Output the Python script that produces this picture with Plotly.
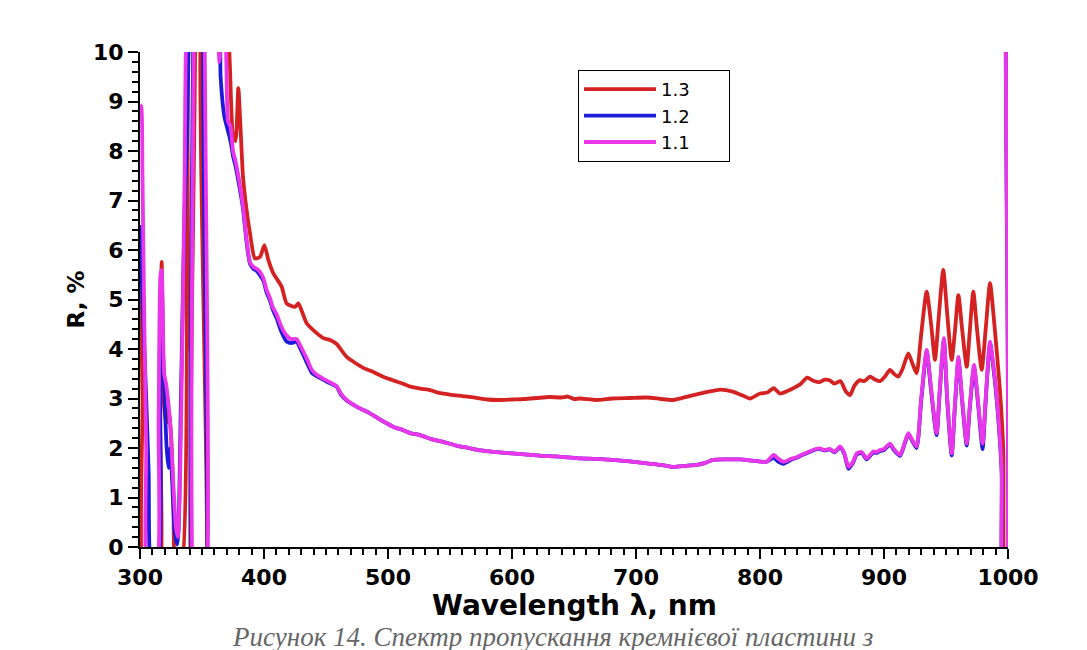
import plotly.graph_objects as go

# ---------------- data ----------------
wl_13 = [300, 302, 304, 314, 316, 317.5, 319, 321, 323, 325, 327, 329, 333, 337, 339, 341, 343, 344.5, 351, 353,
         363, 368, 372, 375, 377, 379.3, 381, 383, 385, 388.7, 392.7, 396.8, 400.3, 403.5, 407.5, 414.2, 418.3, 425,
         427.7, 434.4, 442.5, 447.8, 453.2, 458.6, 466.7, 480, 486, 496, 505, 512, 518, 526, 534, 540, 550, 560,
         570, 580, 590, 600, 610, 620, 630, 640, 645, 650, 655, 668, 681, 695, 709, 720, 730, 743, 755, 768, 778,
         786, 792, 800, 806, 811, 816, 822, 827, 833, 838, 843, 848, 852, 856, 860, 865, 869, 872.6, 876, 880.6,
         884, 888.7, 893, 896.8, 901, 904.8, 908, 911.5, 915, 919.6, 923, 926.3, 930, 934.4, 938, 941.1, 944,
         947.8, 951, 954.6, 957, 960, 963, 966.7, 969, 972, 975, 978.8, 982, 985.5, 989, 993.5, 996.2, 998, 1000]
r_13 = [6.5, 3.0, -1, -1, 3.0, 5.76, 3.0, 2.5, 2.8, 2.3, 1.0, -0.5, -0.5, 12, 4.0, 12, 12, -2, -2, 12,
        12, 11, 10, 8.3, 8.2, 9.27, 8.5, 7.5, 7.0, 6.34, 5.83, 5.86, 6.10, 5.80, 5.53, 5.26, 4.92, 4.85,
        4.92, 4.52, 4.32, 4.22, 4.18, 4.10, 3.84, 3.62, 3.56, 3.44, 3.36, 3.30, 3.24, 3.20, 3.17, 3.12, 3.08, 3.05,
        3.02, 2.98, 2.97, 2.98, 2.99, 3.01, 3.03, 3.02, 3.04, 2.99, 3.00, 2.97, 3.00, 3.01, 3.02, 2.99, 2.97, 3.05,
        3.12, 3.18, 3.14, 3.06, 3.00, 3.10, 3.12, 3.21, 3.10, 3.15, 3.21, 3.30, 3.42, 3.36, 3.33, 3.38, 3.37,
        3.30, 3.35, 3.15, 3.07, 3.25, 3.37, 3.35, 3.44, 3.38, 3.35, 3.45, 3.58, 3.50, 3.44, 3.60, 3.91, 3.70,
        3.51, 4.3, 5.16, 4.5, 3.78, 4.6, 5.60, 4.7, 3.78, 4.3, 5.09, 4.4, 3.64, 4.3, 5.16, 4.4, 3.58, 4.4, 5.33,
        4.5, 3.17, 1.96, -1, -1]

wl_12 = [300, 302, 305, 307, 309.5, 314, 316, 317.5, 318.5, 320, 321.5, 323, 324.5, 326, 328, 330, 331, 333, 336,
         338, 340, 343, 345.5, 351, 355, 362, 365, 368, 371, 373, 375, 377, 380, 383, 386, 388.7, 391.4, 394, 396,
         399.5, 402, 404.8, 407, 410.2, 414, 418.3, 422, 426.4, 429, 431.7, 435, 438.5, 442.5, 447.8, 453, 458.6,
         462, 466.7, 475, 485.5, 492, 498.9, 505, 512.4, 518, 525.8, 535, 545, 555, 565, 575, 585, 595, 605, 615,
         625, 635, 645, 655, 668, 681, 695, 709, 720, 730, 740, 749, 756, 762, 772, 784, 795, 805, 811, 815, 819,
         825, 830, 835, 840, 845, 848.4, 852, 856.5, 860, 864.6, 868, 871.3, 875, 878, 882, 886, 891.4, 894, 896.8,
         900, 904.8, 908, 912.9, 916, 919.6, 923, 926.3, 930, 934.4, 938, 942.4, 945, 948.3, 951, 954.6, 957, 960,
         963, 966.7, 969, 972.6, 976, 979.5, 982, 985.5, 989, 992.2, 994.9, 996, 998, 999.2, 1000]
r_12 = [6.5, 5.0, 3.0, 1.5, -0.5, -0.5, 4.0, 5.5, 4.0, 2.9, 2.0, 1.6, 2.0, 1.3, 0.3, 0.05, 0.3, 3.0, 6.8,
        8.3, 11, 12, -2, -2, 12, 12, 9.5, 8.7, 8.4, 8.2, 7.9, 7.7, 7.3, 6.85, 6.15, 5.72, 5.62, 5.58, 5.52,
        5.38, 5.15, 4.98, 4.80, 4.62, 4.35, 4.15, 4.12, 4.15, 4.02, 3.88, 3.70, 3.52, 3.45, 3.38, 3.31, 3.24,
        3.08, 2.96, 2.83, 2.70, 2.60, 2.50, 2.42, 2.36, 2.30, 2.26, 2.18, 2.12, 2.05, 2.00, 1.95, 1.92, 1.90, 1.88, 1.86,
        1.84, 1.83, 1.81, 1.79, 1.78, 1.76, 1.73, 1.69, 1.66, 1.62, 1.64, 1.66, 1.70, 1.76, 1.77, 1.77, 1.74, 1.72, 1.80, 1.72, 1.68,
        1.76, 1.81, 1.87, 1.92, 1.97, 1.98, 1.95, 1.97, 1.91, 2.01, 1.88, 1.58, 1.70, 1.87, 1.90, 1.77, 1.91, 1.90, 1.94,
        1.96, 2.07, 1.96, 1.84, 2.03, 2.28, 2.13, 2.00, 2.95, 3.95, 3.15, 2.26, 3.15, 4.18, 2.95, 1.85, 2.75, 3.78,
        2.95, 2.05, 2.75, 3.62, 2.85, 1.98, 2.95, 4.10, 3.45, 2.58, 1.50, -1, -1, 12, 12]

wl_11 = [300, 301, 302, 303.5, 305, 306.5, 313, 315, 316.5, 317.5, 318.5, 319.5, 321, 322.5, 324, 325.5, 327, 329,
         330.5, 332, 334, 336, 337.5, 343, 346, 351, 353.5, 362, 364, 366, 369, 371, 373, 375, 377, 380, 383, 386,
         388.7, 391.4, 394, 396, 399.5, 402, 404.8, 407, 410.2, 414, 418.3, 422, 426.4, 429, 431.7, 435, 438.5,
         442.5, 447.8, 453, 458.6, 462, 466.7, 475, 485.5, 492, 498.9, 505, 512.4, 518, 525.8, 535, 545, 555, 565,
         575, 585, 595, 605, 615, 625, 635, 645, 655, 668, 681, 695, 709, 720, 730, 740, 749, 756, 762, 772, 784,
         795, 805, 811, 815, 819, 825, 830, 835, 840, 845, 848.4, 852, 856.5, 860, 864.6, 868, 871.3, 875, 878, 882,
         886, 891.4, 894, 896.8, 900, 904.8, 908, 912.9, 916, 919.6, 923, 926.3, 930, 934.4, 938, 942.4, 945, 948.3,
         951, 954.6, 957, 960, 963, 966.7, 969, 972.6, 976, 979.5, 982, 985.5, 989, 992.2, 994.9, 996, 998, 999.2, 1000]
r_11 = [8.93, 8.9, 7.5, 4.5, 2.0, -0.5, -0.5, 2.5, 5.5, 5.6, 4.5, 3.5, 3.3, 3.0, 2.6, 2.0, 1.2, 0.4,
        0.2, 1.0, 4.0, 7.5, 10.5, 12, -2, -2, 12, 11, 9.8, 10.5, 10.2, 8.6, 8.5, 8.0, 7.8, 7.4, 6.9, 6.2,
        5.75, 5.66, 5.62, 5.58, 5.43, 5.2, 5.03, 4.85, 4.70, 4.45, 4.27, 4.2, 4.2, 4.08, 3.95, 3.78, 3.58,
        3.48, 3.40, 3.33, 3.25, 3.10, 2.97, 2.83, 2.70, 2.60, 2.50, 2.42, 2.36, 2.30, 2.26, 2.18, 2.12, 2.05, 2.00,
        1.95, 1.92, 1.90, 1.88, 1.86, 1.84, 1.83, 1.81, 1.79, 1.78, 1.76, 1.73, 1.69, 1.66, 1.62, 1.64, 1.66, 1.70, 1.76, 1.77, 1.77,
        1.74, 1.72, 1.86, 1.78, 1.72, 1.78, 1.82, 1.88, 1.93, 1.98, 1.99, 1.96, 1.98, 1.92, 2.03, 1.9, 1.62, 1.72, 1.89, 1.92,
        1.79, 1.93, 1.92, 1.96, 1.98, 2.09, 1.98, 1.86, 2.05, 2.30, 2.15, 2.03, 3.0, 3.98, 3.2, 2.30, 3.2, 4.22,
        3.0, 1.89, 2.8, 3.84, 3.0, 2.09, 2.8, 3.68, 2.9, 2.09, 3.0, 4.15, 3.5, 2.63, 1.56, -1, -1, 12, 12]

series_names = ["1.3", "1.2", "1.1"]
series_colors = ["#d42222", "#1c1cd8", "#e936e9"]

for a, b in [(wl_13, r_13), (wl_12, r_12), (wl_11, r_11)]:
    assert len(a) == len(b), (len(a), len(b))

x_range = [300, 1000]
y_range = [0, 10]
x_title = "Wavelength λ, nm"
y_title = "R, %"
caption = "Рисунок 14. Спектр пропускання кремнієвої пластини з"

# ---------------- figure ----------------
fig = go.Figure()
pad = "\u00a0" * 6
for wl, r, name, col in zip([wl_13, wl_12, wl_11], [r_13, r_12, r_11], series_names, series_colors):
    fig.add_trace(go.Scatter(x=wl, y=r, mode="lines", name=name + pad,
                             line=dict(color=col, width=3.8, shape="spline", smoothing=0.6)))

tick_font = dict(family="DejaVu Sans", size=22, color="black", weight="bold")

fig.update_layout(
    width=1087, height=650,
    margin=dict(l=132, r=87, t=44, b=111),
    paper_bgcolor="white", plot_bgcolor="white",
    showlegend=True,
    legend=dict(x=0.5046, y=0.9636, xanchor="left", yanchor="top",
                bordercolor="black", borderwidth=1, bgcolor="white",
                font=dict(family="DejaVu Sans", size=18, color="black"),
                itemwidth=72, tracegroupgap=0),
    xaxis=dict(range=x_range, dtick=100, tick0=300, showgrid=False, zeroline=False,
               showline=True, linecolor="black", linewidth=2,
               ticks="outside", ticklen=10, tickwidth=2, tickcolor="black",
               tickfont=tick_font,
               minor=dict(dtick=10, ticks="outside", ticklen=6, tickwidth=1.5, tickcolor="black")),
    yaxis=dict(range=y_range, dtick=1, showgrid=False, zeroline=False,
               showline=True, linecolor="black", linewidth=2,
               ticks="outside", ticklen=10, tickwidth=2, tickcolor="black",
               tickfont=tick_font,
               minor=dict(dtick=0.2, ticks="outside", ticklen=6, tickwidth=1.5, tickcolor="black"),
               title=dict(text=y_title, font=dict(family="DejaVu Sans", size=23, color="black", weight="bold"),
                          standoff=2)),
    xaxis2=dict(range=x_range, dtick=100, tick0=300, overlaying="x", side="top", anchor="y",
                showgrid=False, zeroline=False, showline=True, linecolor="black", linewidth=2,
                ticks="inside", ticklen=9, tickwidth=2, tickcolor="black", showticklabels=False,
                minor=dict(dtick=10, ticks="inside", ticklen=4, tickwidth=1.5, tickcolor="black")),
    yaxis2=dict(range=y_range, dtick=1, overlaying="y", side="right", anchor="x",
                showgrid=False, zeroline=False, showline=True, linecolor="black", linewidth=2,
                ticks="inside", ticklen=8, tickwidth=2, tickcolor="black", showticklabels=False,
                minor=dict(dtick=0.2, ticks="inside", ticklen=4, tickwidth=1.5, tickcolor="black")),
)

# x-axis title placed as an annotation so it can sit close to the tick labels as in the reference
fig.add_annotation(text=x_title, xref="paper", yref="paper",
                   x=0.5, y=-0.08, xanchor="center", yanchor="top", showarrow=False,
                   font=dict(family="DejaVu Sans", size=28, color="black", weight="bold"))

fig.add_annotation(text="<i>" + caption + "</i>", xref="paper", yref="paper",
                   x=0.4747, y=-0.148, xanchor="center", yanchor="top", showarrow=False,
                   font=dict(family="Liberation Serif", size=27, color="#666666"))

fig.write_html("out.html")
